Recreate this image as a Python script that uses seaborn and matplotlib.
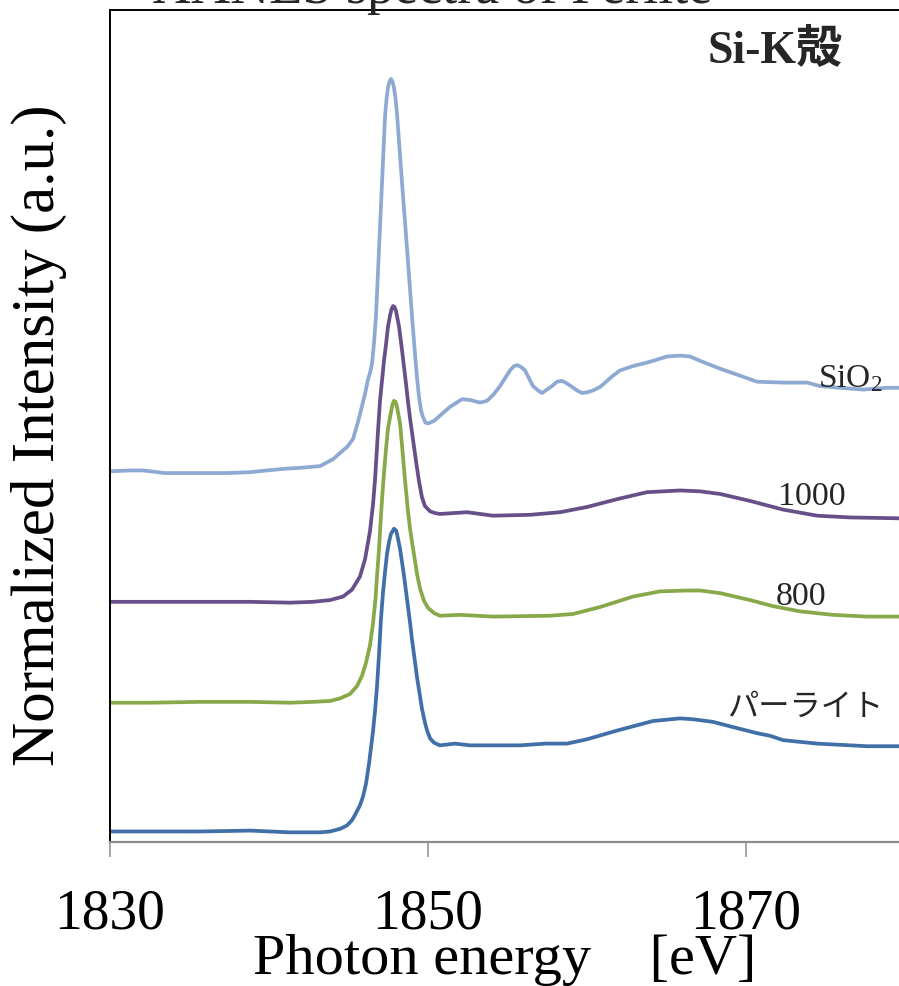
import numpy as np
import pandas as pd
import matplotlib
matplotlib.use("Agg")
import matplotlib.pyplot as plt
import seaborn as sns

# Si K-edge XANES spectra, normalized absorption (edge step = 1)
energy_perlite = [1830.00, 1832.52, 1835.66, 1838.81, 1841.32, 1843.21, 1843.84, 1844.47, 1844.91,
                  1845.22, 1845.41, 1845.72, 1845.91, 1846.10, 1846.29, 1846.54, 1846.67, 1846.79,
                  1846.92, 1847.04, 1847.17, 1847.30, 1847.42, 1847.55, 1847.67, 1847.80, 1847.86,
                  1847.99, 1848.05, 1848.24, 1848.49, 1848.68, 1848.87, 1848.99, 1849.18, 1849.31,
                  1849.50, 1849.62, 1849.81, 1849.94, 1850.13, 1850.38, 1850.75, 1851.70, 1852.64,
                  1853.90, 1855.79, 1857.36, 1858.74, 1860.00, 1861.89, 1864.15, 1865.85, 1866.67,
                  1867.92, 1869.18, 1870.69, 1871.51, 1872.33, 1874.47, 1877.61, 1879.62]
mu_perlite = [0.00, 0.00, 0.00, 0.01, -0.01, -0.01, 0.00, 0.03, 0.07,
              0.13, 0.19, 0.30, 0.40, 0.55, 0.78, 1.15, 1.39, 1.66,
              2.04, 2.44, 2.75, 2.99, 3.19, 3.33, 3.42, 3.46, 3.48,
              3.46, 3.42, 3.25, 2.94, 2.67, 2.40, 2.21, 1.95, 1.77,
              1.55, 1.41, 1.25, 1.16, 1.07, 1.02, 0.99, 1.01, 0.99,
              0.99, 0.99, 1.01, 1.01, 1.06, 1.16, 1.27, 1.30, 1.29,
              1.26, 1.20, 1.13, 1.10, 1.05, 1.01, 0.98, 0.98]

energy_800 = [1830.00, 1832.52, 1835.66, 1838.81, 1841.32, 1842.77, 1843.84, 1844.47, 1845.09,
              1845.53, 1845.85, 1846.10, 1846.35, 1846.54, 1846.70, 1846.79, 1846.92, 1847.01,
              1847.11, 1847.23, 1847.36, 1847.48, 1847.67, 1847.77, 1847.86, 1847.96, 1848.05,
              1848.24, 1848.36, 1848.49, 1848.62, 1848.74, 1848.87, 1849.06, 1849.31, 1849.50,
              1849.75, 1850.00, 1850.38, 1850.75, 1852.01, 1854.09, 1857.67, 1859.12, 1860.82,
              1862.89, 1864.59, 1866.29, 1867.11, 1868.36, 1870.25, 1871.70, 1873.40, 1875.47,
              1877.61, 1879.62]
mu_800 = [0.00, 0.00, 0.01, 0.01, 0.00, 0.01, 0.02, 0.05, 0.10,
          0.19, 0.31, 0.46, 0.66, 0.91, 1.20, 1.45, 1.77, 2.06,
          2.34, 2.64, 2.92, 3.15, 3.34, 3.43, 3.47, 3.46, 3.40,
          3.21, 2.97, 2.69, 2.43, 2.20, 2.00, 1.77, 1.48, 1.31,
          1.17, 1.09, 1.03, 1.00, 1.01, 0.99, 1.00, 1.02, 1.10,
          1.22, 1.28, 1.29, 1.29, 1.26, 1.18, 1.11, 1.05, 1.01,
          0.99, 0.99]

energy_1000 = [1830.00, 1832.52, 1835.66, 1838.81, 1841.32, 1842.77, 1843.84, 1844.65, 1845.22,
               1845.72, 1846.04, 1846.35, 1846.54, 1846.67, 1846.86, 1846.98, 1847.11, 1847.23,
               1847.36, 1847.48, 1847.61, 1847.70, 1847.80, 1847.89, 1847.99, 1848.18, 1848.36,
               1848.49, 1848.62, 1848.74, 1848.87, 1849.06, 1849.25, 1849.43, 1849.62, 1849.81,
               1850.13, 1850.44, 1850.75, 1852.45, 1854.09, 1856.42, 1858.30, 1860.00, 1861.89,
               1863.77, 1865.85, 1867.11, 1868.36, 1870.25, 1872.33, 1874.47, 1876.54, 1879.62]
mu_1000 = [0.00, 0.00, 0.00, 0.00, -0.01, 0.00, 0.02, 0.06, 0.14,
           0.29, 0.49, 0.81, 1.12, 1.41, 1.98, 2.31, 2.55, 2.77,
           2.96, 3.16, 3.29, 3.36, 3.40, 3.39, 3.34, 3.16, 2.90,
           2.70, 2.50, 2.30, 2.11, 1.86, 1.61, 1.39, 1.20, 1.10,
           1.04, 1.02, 1.01, 1.03, 0.99, 1.00, 1.03, 1.09, 1.18,
           1.26, 1.28, 1.27, 1.24, 1.16, 1.06, 0.99, 0.97, 0.96]

energy_sio2 = [1830.00, 1831.26, 1832.08, 1833.46, 1834.59, 1835.97, 1837.36, 1838.81, 1839.87,
               1841.01, 1841.95, 1843.21, 1844.03, 1844.65, 1844.91, 1845.28, 1845.60, 1846.04,
               1846.23, 1846.35, 1846.48, 1846.60, 1846.73, 1846.92, 1847.11, 1847.30, 1847.39,
               1847.48, 1847.58, 1847.67, 1847.77, 1847.86, 1847.96, 1848.05, 1848.36, 1848.68,
               1848.99, 1849.18, 1849.31, 1849.43, 1849.56, 1849.69, 1849.84, 1850.00, 1850.38,
               1850.75, 1851.38, 1852.14, 1852.64, 1853.27, 1853.71, 1854.15, 1854.53, 1854.84,
               1855.16, 1855.41, 1855.60, 1855.85, 1856.10, 1856.35, 1856.60, 1856.92, 1857.17,
               1857.48, 1857.80, 1858.11, 1858.43, 1858.74, 1859.06, 1859.37, 1859.69, 1860.06,
               1860.38, 1860.82, 1861.26, 1861.64, 1862.08, 1862.89, 1863.77, 1864.15, 1865.03,
               1865.85, 1866.48, 1867.11, 1868.36, 1869.62, 1870.69, 1872.33, 1873.84, 1874.65,
               1875.91, 1877.36, 1878.87, 1879.62]
mu_sio2 = [0.00, 0.01, 0.01, -0.02, -0.02, -0.02, -0.02, -0.01, 0.01,
           0.03, 0.04, 0.06, 0.14, 0.24, 0.28, 0.37, 0.57, 0.89,
           1.06, 1.13, 1.24, 1.47, 1.79, 2.56, 3.33, 4.09, 4.28,
           4.41, 4.48, 4.51, 4.48, 4.41, 4.28, 4.11, 3.33, 2.56,
           1.79, 1.35, 1.07, 0.86, 0.70, 0.62, 0.56, 0.55, 0.58,
           0.64, 0.74, 0.83, 0.82, 0.79, 0.81, 0.89, 0.98, 1.07,
           1.16, 1.21, 1.22, 1.20, 1.16, 1.07, 0.98, 0.93, 0.90,
           0.94, 0.98, 1.03, 1.04, 1.01, 0.97, 0.93, 0.90, 0.91,
           0.93, 0.97, 1.04, 1.10, 1.16, 1.21, 1.25, 1.27, 1.32,
           1.33, 1.32, 1.27, 1.18, 1.10, 1.03, 1.02, 1.02, 0.98,
           0.96, 0.94, 0.96, 0.96]

series_labels = ["パーライト", "800", "1000", "SiO$_\\mathrm{2}$"]
series_offsets = [0.0, 1.48, 2.64, 4.14]
x_ticks = [1830, 1850, 1870]

energies = [energy_perlite, energy_800, energy_1000, energy_sio2]
intensities = [mu_perlite, mu_800, mu_1000, mu_sio2]
line_colors = ["#4170a8", "#88a84a", "#675089", "#8eaad3"]

sns.set_theme(style="white")
plt.rcParams["font.family"] = ["Liberation Serif", "Noto Sans CJK JP", "DejaVu Sans"]
plt.rcParams["mathtext.fontset"] = "custom"
plt.rcParams["mathtext.rm"] = "Liberation Serif"
plt.rcParams["mathtext.it"] = "Liberation Serif:italic"
plt.rcParams["mathtext.bf"] = "Liberation Serif:bold"

W, H = 899, 987
fig = plt.figure(figsize=(W / 100, H / 100), dpi=100)
ax = fig.add_axes([110 / W, 1 - 843 / H, 789 / W, 832 / H])

frames = []
for name, e, mu, off in zip(series_labels, energies, intensities, series_offsets):
    frames.append(pd.DataFrame({"energy": e,
                                "intensity": np.asarray(mu) + off,
                                "sample": name}))
data = pd.concat(frames, ignore_index=True)

for name, color in zip(series_labels, line_colors):
    sns.lineplot(data=data[data["sample"] == name], x="energy", y="intensity",
                 color=color, linewidth=2.7, estimator=None, sort=False, ax=ax,
                 solid_joinstyle="round", solid_capstyle="round")

ax.set_xlim(1830, 1879.62)
ax.set_ylim(-0.121, 9.443)
ax.set_xticks(x_ticks)
ax.set_xticklabels([str(t) for t in x_ticks])
ax.set_yticks([])

for side in ["left", "top"]:
    ax.spines[side].set_color("black")
    ax.spines[side].set_linewidth(1.4)
ax.spines["right"].set_visible(False)
ax.spines["bottom"].set_color("#8c8c8c")
ax.spines["bottom"].set_linewidth(1.6)

ax.tick_params(axis="x", direction="out", length=10.8, width=1.1, color="#8c8c8c",
               labelsize=40, pad=22, labelcolor="black", bottom=True)

ax.set_xlabel("Photon energy\u3000[eV]", fontsize=42, color="black")
ax.xaxis.set_label_coords(0.5, -0.1095)
ax.xaxis.label.set_va("top")
ax.set_ylabel("Normalized Intensity (a.u.)", fontsize=44, color="black")
ax.yaxis.set_label_coords(-0.055, 0.49)

# curve labels
ax.text(1874.5, 5.12, series_labels[3], fontsize=24, ha="left", va="baseline")
ax.text(1872.0, 3.76, series_labels[2], fontsize=24.5, ha="left", va="baseline")
ax.text(1871.9, 2.61, series_labels[1], fontsize=24.5, ha="left", va="baseline")
ax.text(1868.8, 1.44, series_labels[0], fontsize=22.5, ha="left", va="center",
        family=["Noto Sans CJK JP"])

ax.text(0.757, 0.953, "Si-K殻", transform=ax.transAxes, fontsize=33,
        fontweight="bold", ha="left", va="center",
        family=["Liberation Serif", "Noto Sans CJK JP"])

fig.text(432 / W, 1 - 3 / H, "XANES spectra of Perlite", fontsize=39,
         ha="center", va="baseline")

fig.savefig("out.png", dpi=100)
